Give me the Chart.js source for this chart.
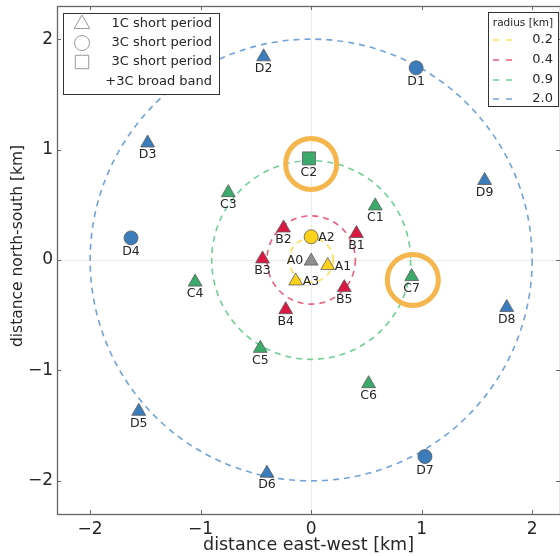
<!DOCTYPE html>
<html>
<head>
<meta charset="utf-8">
<script src="https://cdn.jsdelivr.net/npm/chart.js@4/dist/chart.umd.min.js"></script>
<style>
  html, body { margin: 0; padding: 0; background: #fff; }
</style>
</head>
<body>
<canvas id="array" width="560" height="556"></canvas>
<script>
// station positions in km from the array centre
const stationNames = ["A0", "A1", "A2", "A3", "B1", "B2", "B3", "B4", "B5",
  "C1", "C2", "C3", "C4", "C5", "C6", "C7",
  "D1", "D2", "D3", "D4", "D5", "D6", "D7", "D8", "D9"];
const stationEast = [0.00, 0.15, 0.00, -0.14, 0.41, -0.25, -0.44, -0.23, 0.30,
  0.58, -0.02, -0.75, -1.05, -0.46, 0.52, 0.91,
  0.95, -0.43, -1.48, -1.63, -1.56, -0.40, 1.03, 1.77, 1.57];
const stationNorth = [-0.01, -0.05, 0.21, -0.19, 0.24, 0.29, 0.01, -0.45, -0.25,
  0.49, 0.92, 0.61, -0.20, -0.80, -1.12, -0.15,
  1.74, 1.84, 1.06, 0.20, -1.37, -1.93, -1.78, -0.43, 0.72];
const stationKind = ["1C", "1C", "3C", "1C", "1C", "1C", "1C", "1C", "1C",
  "1C", "3C+BB", "1C", "1C", "1C", "1C", "1C",
  "3C", "1C", "1C", "3C", "1C", "1C", "3C", "1C", "1C"];

const ringRadii = [0.2, 0.4, 0.9, 2.0];
const kindLabels = ["1C short period", "3C short period", "3C short period", "+3C broad band"];

// orange highlight rings
const highlightEast = [0.00, 0.92];
const highlightNorth = [0.87, -0.18];

const xTicks = [-2, -1, 0, 1, 2];
const yTicks = [-2, -1, 0, 1, 2];

const FONT = "DejaVu Sans";
const groupColors = { centre: "#8e8e8e", A: "#ffd21a", B: "#da1842", C: "#3caa6b", D: "#3b7cbd" };
const ringColors = ["#ffe055", "#ec5d7a", "#6fcf95", "#72a2d8"];
const labelSide = { A0: "left", A1: "right", A2: "right", A3: "right" };

const groupOf = name => name === "A0" ? "centre" : name[0];
const styleOf = kind => kind === "1C" ? "triangle" : (kind === "3C" ? "circle" : "rect");
const radiusOf = kind => kind === "1C" ? 8 : (kind === "3C" ? 7 : 9.2);
const fmtTick = v => v < 0 ? "\u2212" + Math.abs(v) : String(v);

const stationSets = ["centre", "A", "B", "C", "D"].map(g => {
  const idx = stationNames.map((n, i) => i).filter(i => groupOf(stationNames[i]) === g);
  return {
    label: g,
    stations: true,
    data: idx.map(i => ({ x: stationEast[i], y: stationNorth[i], name: stationNames[i], kind: stationKind[i] })),
    pointStyle: c => styleOf(c.raw.kind),
    pointRadius: c => radiusOf(c.raw.kind),
    pointHoverRadius: c => radiusOf(c.raw.kind),
    backgroundColor: groupColors[g],
    borderColor: "#5a5a5a",
    borderWidth: 0.8
  };
});

const highlightSet = {
  label: "highlight",
  data: highlightEast.map((x, i) => ({ x: x, y: highlightNorth[i] })),
  pointStyle: "circle",
  pointRadius: 25.5,
  pointHoverRadius: 25.5,
  backgroundColor: "rgba(0,0,0,0)",
  borderColor: "#f6b64e",
  borderWidth: 5
};

const ringsPlugin = {
  id: "rings",
  beforeDatasetsDraw(chart) {
    const { ctx, scales: { x, y } } = chart;
    const cx = x.getPixelForValue(0), cy = y.getPixelForValue(0);
    ctx.save();
    ctx.lineWidth = 1.6;
    ctx.setLineDash([6, 5]);
    ringRadii.forEach((r, i) => {
      ctx.strokeStyle = ringColors[i];
      ctx.beginPath();
      ctx.ellipse(cx, cy, x.getPixelForValue(r) - cx, cy - y.getPixelForValue(r), 0, 0, Math.PI * 2);
      ctx.stroke();
    });
    ctx.restore();
  }
};

const decorPlugin = {
  id: "decor",
  afterDatasetsDraw(chart) {
    const { ctx, chartArea: a, scales: { x, y } } = chart;
    ctx.save();
    // station names
    ctx.fillStyle = "#262626";
    ctx.font = "12.5px '" + FONT + "'";
    ctx.textBaseline = "middle";
    chart.data.datasets.forEach((ds, di) => {
      if (!ds.stations) return;
      chart.getDatasetMeta(di).data.forEach((pt, j) => {
        const st = ds.data[j];
        const side = labelSide[st.name];
        if (side === "left") {
          ctx.textAlign = "right";
          ctx.fillText(st.name, pt.x - 8, pt.y);
        } else if (side === "right") {
          ctx.textAlign = "left";
          ctx.fillText(st.name, pt.x + 7, pt.y + 1);
        } else {
          ctx.textAlign = "center";
          ctx.fillText(st.name, pt.x, pt.y + (st.kind === "1C" ? 12 : 14));
        }
      });
    });
    // frame with inward ticks
    ctx.strokeStyle = "#666";
    ctx.lineWidth = 1.3;
    ctx.strokeRect(a.left + 0.5, a.top + 0.5, a.right - a.left, a.bottom - a.top);
    ctx.lineWidth = 1;
    ctx.beginPath();
    xTicks.forEach(v => {
      const px = Math.round(x.getPixelForValue(v)) + 0.5;
      ctx.moveTo(px, a.bottom); ctx.lineTo(px, a.bottom - 4);
      ctx.moveTo(px, a.top); ctx.lineTo(px, a.top + 4);
    });
    yTicks.forEach(v => {
      const py = Math.round(y.getPixelForValue(v)) + 0.5;
      ctx.moveTo(a.left, py); ctx.lineTo(a.left + 4, py);
      ctx.moveTo(a.right, py); ctx.lineTo(a.right - 4, py);
    });
    ctx.stroke();
    ctx.restore();
  },
  afterDraw(chart) {
    const ctx = chart.ctx;
    // y axis title (sits a little above the axis centre in the original)
    ctx.save();
    ctx.translate(18, 246);
    ctx.rotate(-Math.PI / 2);
    ctx.fillStyle = "#262626";
    ctx.font = "15.5px '" + FONT + "'";
    ctx.textAlign = "center";
    ctx.textBaseline = "middle";
    ctx.fillText("distance north-south [km]", 0, 0);
    ctx.restore();

    // station type legend
    ctx.save();
    ctx.fillStyle = "#fff";
    ctx.fillRect(63.5, 13.5, 156, 81);
    ctx.strokeStyle = "#333";
    ctx.lineWidth = 1;
    ctx.strokeRect(63.5, 13.5, 156, 81);
    const rows = [24, 43, 62, 82];
    ctx.strokeStyle = "#9a9a9a";
    ctx.fillStyle = "#fff";
    ["triangle", "circle", "rect"].forEach((s, i) => {
      Chart.helpers.drawPoint(ctx, { pointStyle: s, radius: [9, 7.5, 9.5][i], rotation: 0, borderWidth: 1.2 }, 82, rows[i]);
    });
    ctx.fillStyle = "#262626";
    ctx.font = "13px '" + FONT + "'";
    ctx.textAlign = "right";
    ctx.textBaseline = "middle";
    kindLabels.forEach((t, i) => ctx.fillText(t, 212, rows[i]));
    ctx.restore();

    // radius legend
    ctx.save();
    ctx.fillStyle = "#fff";
    ctx.fillRect(488.5, 12.5, 70, 94);
    ctx.strokeStyle = "#333";
    ctx.lineWidth = 1;
    ctx.strokeRect(488.5, 12.5, 70, 94);
    ctx.fillStyle = "#262626";
    ctx.font = "10.5px '" + FONT + "'";
    ctx.textAlign = "center";
    ctx.textBaseline = "middle";
    ctx.fillText("radius [km]", 523, 23);
    ctx.font = "13px '" + FONT + "'";
    ctx.textAlign = "right";
    const ly = [40, 60, 80, 99];
    ringRadii.forEach((r, i) => {
      ctx.strokeStyle = ringColors[i];
      ctx.lineWidth = 1.6;
      ctx.setLineDash([6, 7]);
      ctx.beginPath();
      ctx.moveTo(493, ly[i]);
      ctx.lineTo(516, ly[i]);
      ctx.stroke();
      ctx.fillText(r.toFixed(1), 553, ly[i]);
    });
    ctx.restore();
  }
};

const zeroGrid = c => c.tick && c.tick.value === 0 ? "#ececec" : "rgba(0,0,0,0)";
const noPad = s => { s.paddingTop = 0; s.paddingBottom = 0; s.paddingLeft = 0; s.paddingRight = 0; };

new Chart(document.getElementById("array"), {
  type: "scatter",
  data: { datasets: stationSets.concat([highlightSet]) },
  options: {
    responsive: false,
    devicePixelRatio: 1,
    animation: false,
    layout: { autoPadding: false, padding: { top: 6, left: 0, right: 0, bottom: 0 } },
    plugins: { legend: { display: false }, tooltip: { enabled: false } },
    scales: {
      x: {
        type: "linear",
        min: -2.3,
        max: 2.252,
        afterBuildTicks: s => { s.ticks = xTicks.map(v => ({ value: v })); },
        afterFit: s => { s.height = 42; noPad(s); },
        border: { display: false },
        grid: { color: zeroGrid, drawTicks: false },
        ticks: { padding: 5, color: "#262626", font: { family: FONT, size: 17 }, callback: fmtTick },
        title: { display: true, text: "distance east-west [km]", color: "#262626", font: { family: FONT, size: 17.5 }, padding: 0 }
      },
      y: {
        type: "linear",
        min: -2.3,
        max: 2.3,
        afterBuildTicks: s => { s.ticks = yTicks.map(v => ({ value: v })); },
        afterFit: s => { s.width = 57; noPad(s); },
        border: { display: false },
        grid: { color: zeroGrid, drawTicks: false },
        ticks: { padding: 4, color: "#262626", font: { family: FONT, size: 17 }, callback: fmtTick }
      }
    }
  },
  plugins: [ringsPlugin, decorPlugin]
});
</script>
</body>
</html>
